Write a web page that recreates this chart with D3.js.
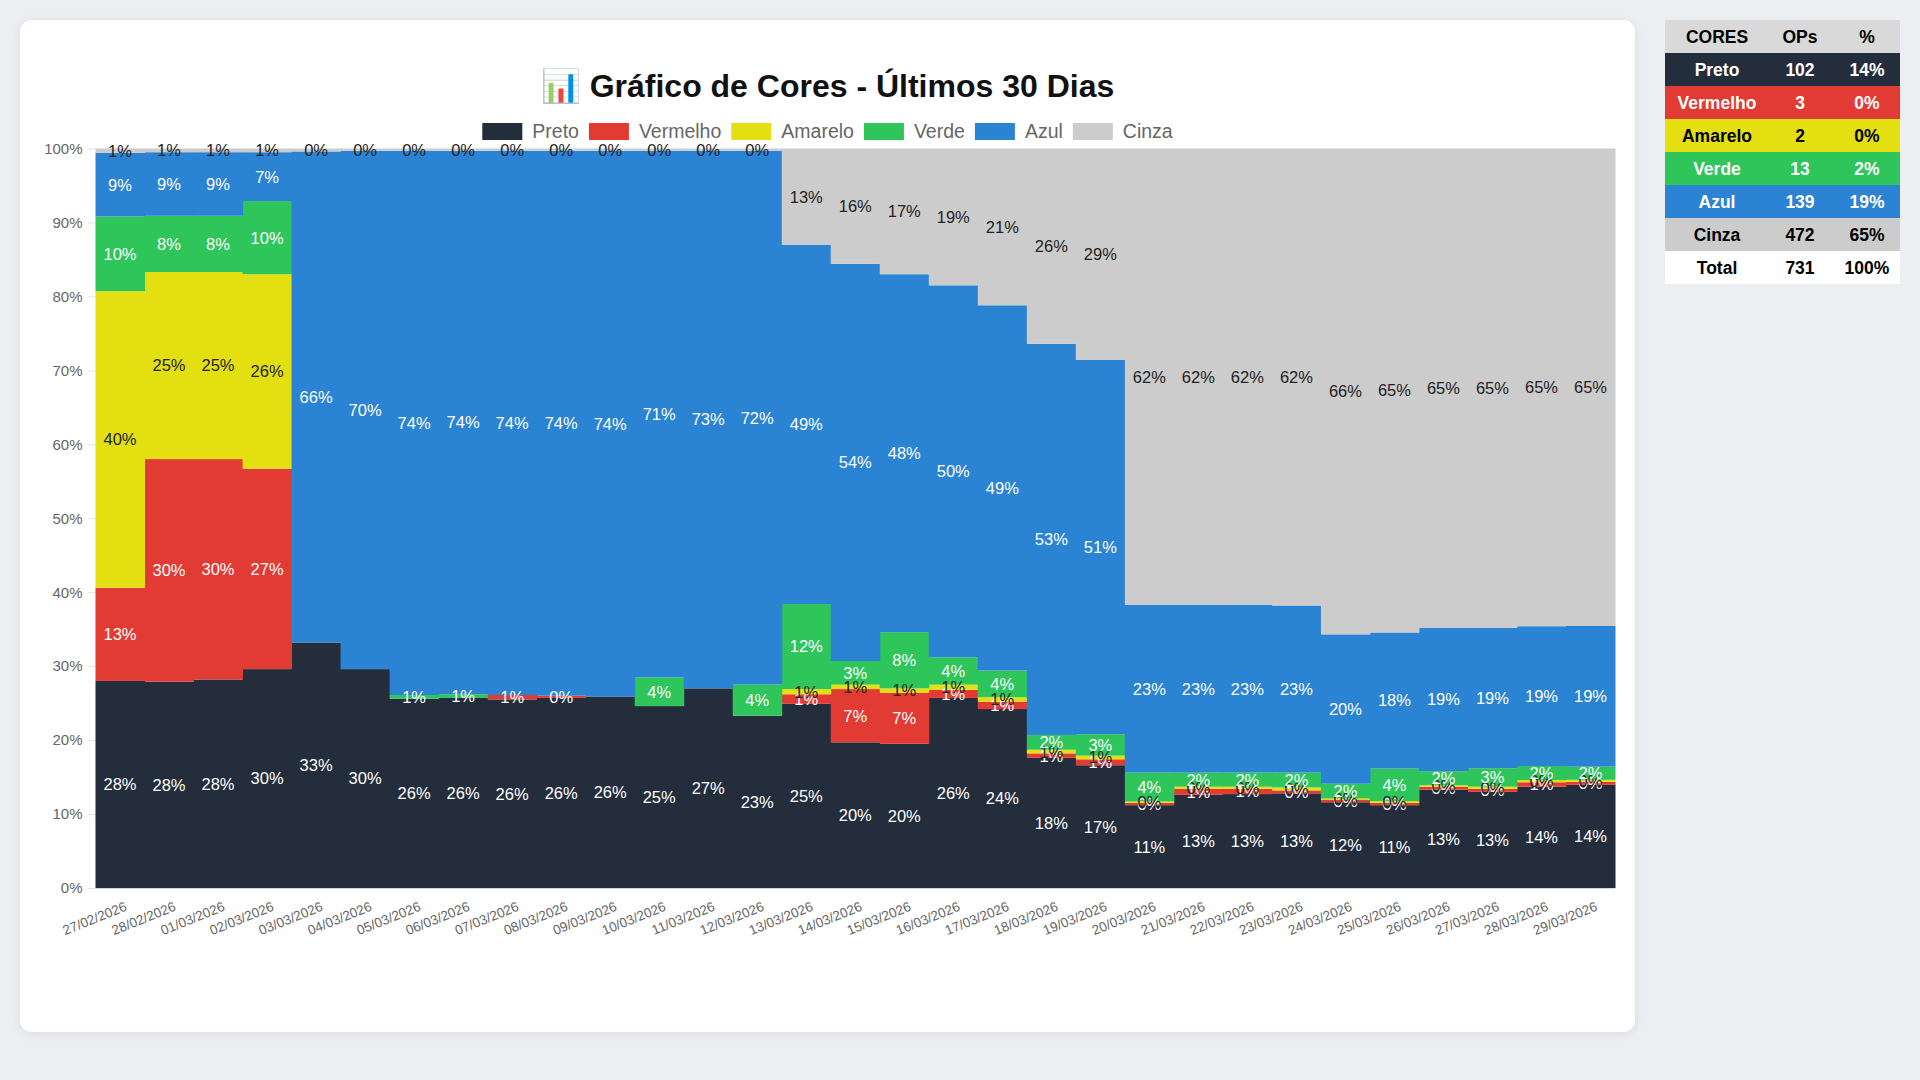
<!DOCTYPE html>
<html lang="pt-BR">
<head>
<meta charset="utf-8">
<title>Gráfico de Cores - Últimos 30 Dias</title>
<script src="https://cdn.jsdelivr.net/npm/d3@7"></script>
<style>
  html, body { margin: 0; padding: 0; background: #eceef1; }
  body { width: 1920px; height: 1080px; overflow: hidden; font-family: "Liberation Sans", Arial, Helvetica, sans-serif; }
</style>
</head>
<body>
<div id="chart"></div>
<script>
// --- data (percent of OPs per day) ---
const dates = [
  "27/02/2026", "28/02/2026", "01/03/2026", "02/03/2026", "03/03/2026", "04/03/2026",
  "05/03/2026", "06/03/2026", "07/03/2026", "08/03/2026", "09/03/2026", "10/03/2026",
  "11/03/2026", "12/03/2026", "13/03/2026", "14/03/2026", "15/03/2026", "16/03/2026",
  "17/03/2026", "18/03/2026", "19/03/2026", "20/03/2026", "21/03/2026", "22/03/2026",
  "23/03/2026", "24/03/2026", "25/03/2026", "26/03/2026", "27/03/2026", "28/03/2026",
  "29/03/2026"
]
const preto =    [28.0, 27.9, 28.2, 29.6, 33.2, 29.6, 25.6, 25.7, 25.5, 25.7, 25.9, 24.6, 27.0, 23.3, 24.9, 19.7, 19.5, 25.7, 24.2, 17.6, 16.6, 11.2, 12.6, 12.7, 12.8, 11.6, 11.2, 13.3, 13.0, 13.7, 13.95]
const vermelho = [12.6, 30.1, 29.8, 27.1, 0, 0, 0, 0, 0.6, 0.3, 0, 0, 0, 0, 1.3, 7.2, 6.9, 1.1, 1.0, 0.6, 0.8, 0.3, 0.8, 0.7, 0.4, 0.3, 0.3, 0.4, 0.4, 0.6, 0.41]
const amarelo =  [40.1, 25.3, 25.3, 26.3, 0, 0, 0, 0, 0, 0, 0, 0, 0, 0, 0.7, 0.6, 0.6, 0.7, 0.6, 0.5, 0.5, 0.2, 0.3, 0.3, 0.4, 0.2, 0.25, 0.2, 0.3, 0.3, 0.27]
const verde =    [10.1, 7.6, 7.6, 9.9, 0, 0, 0.5, 0.5, 0, 0, 0, 3.9, 0, 4.2, 11.5, 3.2, 7.6, 3.7, 3.6, 2.0, 2.9, 3.9, 1.9, 1.9, 2.0, 2.0, 4.4, 1.9, 2.5, 1.9, 1.78]
const azul =     [8.6, 8.6, 8.6, 6.6, 66.4, 70.1, 73.6, 73.5, 73.6, 73.7, 73.8, 71.2, 72.7, 72.2, 48.6, 53.7, 48.4, 50.3, 49.4, 52.9, 50.6, 22.7, 22.7, 22.7, 22.6, 20.2, 18.4, 19.4, 19.0, 18.9, 19.02]
const cinza =    [0.6, 0.5, 0.5, 0.5, 0.4, 0.3, 0.3, 0.3, 0.3, 0.3, 0.3, 0.3, 0.3, 0.3, 13.0, 15.6, 17.0, 18.5, 21.2, 26.4, 28.6, 61.7, 61.7, 61.7, 61.8, 65.7, 65.45, 64.8, 64.8, 64.6, 64.57]

const seriesNames = ["Preto", "Vermelho", "Amarelo", "Verde", "Azul", "Cinza"]
const seriesValues = [preto, vermelho, amarelo, verde, azul, cinza]
const seriesColors = ["#232d3c", "#e23b33", "#e3df10", "#2ec55b", "#2a83d3", "#cccccc"]
const labelColors = ["#ffffff", "#ffffff", "#222222", "#ffffff", "#ffffff", "#222222"]
const yTicks = [0, 10, 20, 30, 40, 50, 60, 70, 80, 90, 100]

// summary table (last day)
const tableHeader = ["CORES", "OPs", "%"]
const tableOps = [102, 3, 2, 13, 139, 472]

const W = 1920, H = 1080
const font = '"Liberation Sans", Arial, Helvetica, sans-serif'

const svg = d3.select("#chart").append("svg")
  .attr("width", W)
  .attr("height", H)
  .style("font-family", font)

const defs = svg.append("defs")
defs.append("filter").attr("id", "shadow")
  .attr("x", "-5%").attr("y", "-5%").attr("width", "110%").attr("height", "110%")
  .append("feDropShadow")
    .attr("dx", 0).attr("dy", 2).attr("stdDeviation", 5)
    .attr("flood-color", "#000").attr("flood-opacity", 0.08)

// card
svg.append("rect")
  .attr("x", 20).attr("y", 20)
  .attr("width", 1615).attr("height", 1012)
  .attr("rx", 12)
  .attr("fill", "#fff")
  .attr("filter", "url(#shadow)")

const cx = 827.5

// title
svg.append("text")
  .attr("x", cx).attr("y", 97)
  .attr("text-anchor", "middle")
  .style("font-size", "32px")
  .style("font-weight", "bold")
  .attr("fill", "#111")
  .text("📊 Gráfico de Cores - Últimos 30 Dias")

// legend
const legend = svg.append("g")
let lx = 0
seriesNames.forEach((name, i) => {
  const item = legend.append("g").attr("transform", `translate(${lx},0)`)
  item.append("rect")
    .attr("x", 0).attr("y", 123)
    .attr("width", 40).attr("height", 17)
    .attr("fill", seriesColors[i])
  const t = item.append("text")
    .attr("x", 50).attr("y", 131.5)
    .attr("dy", "0.35em")
    .attr("fill", "#666")
    .style("font-size", "19.5px")
    .text(name)
  lx += 50 + t.node().getComputedTextLength() + 10
})
legend.attr("transform", `translate(${cx - (lx - 10) / 2},0)`)

// scales
const x = d3.scaleBand()
  .domain(dates)
  .range([95.5, 1615])
  .padding(0)

const y = d3.scaleLinear()
  .domain([0, 100])
  .range([888, 148.5])

const rows = dates.map((d, i) => {
  const r = { date: d }
  seriesNames.forEach((s, k) => { r[s] = seriesValues[k][i] })
  return r
})

const stacked = d3.stack().keys(seriesNames)(rows)

// y axis
const yAxis = svg.append("g")
  .attr("transform", "translate(95.5,0)")
  .call(d3.axisLeft(y).tickValues(yTicks).tickFormat(d => d + "%").tickSize(8).tickPadding(5))
yAxis.select(".domain").remove()
yAxis.selectAll(".tick line").attr("stroke", "#e2e2e2")
yAxis.selectAll(".tick text")
  .attr("fill", "#666")
  .style("font-size", "15px")
  .style("font-family", font)

// bars
const gBars = svg.append("g")
stacked.forEach((layer, k) => {
  gBars.append("g")
    .attr("fill", seriesColors[k])
    .selectAll("rect")
    .data(layer.filter(d => d[1] - d[0] > 0))
    .enter().append("rect")
      .attr("x", d => x(d.data.date))
      .attr("width", x.bandwidth() + 0.5)
      .attr("y", d => y(d[1]))
      .attr("height", d => y(d[0]) - y(d[1]))
})

// bottom axis line
svg.append("line")
  .attr("x1", 95.5).attr("x2", 1615)
  .attr("y1", 888.5).attr("y2", 888.5)
  .attr("stroke", "#d8d8d8")

// x labels
svg.append("g")
  .selectAll("text")
  .data(dates)
  .enter().append("text")
    .attr("transform", d => `translate(${x(d) + x.bandwidth() / 2 + 4},901) rotate(-22)`)
    .attr("text-anchor", "end")
    .attr("dy", "0.72em")
    .attr("fill", "#666")
    .style("font-size", "13.5px")
    .text(d => d)

// value labels, centered in each segment
const gLabels = svg.append("g")
stacked.forEach((layer, k) => {
  gLabels.append("g")
    .selectAll("text")
    .data(layer.filter(d => d[1] - d[0] > 0))
    .enter().append("text")
      .attr("x", d => x(d.data.date) + x.bandwidth() / 2)
      .attr("y", d => (y(d[0]) + y(d[1])) / 2)
      .attr("dy", "0.36em")
      .attr("text-anchor", "middle")
      .attr("fill", labelColors[k])
      .style("font-size", "16.5px")
      .text(d => Math.round(d[1] - d[0] + 1e-9) + "%")
})

// summary table
const total = d3.sum(tableOps)
const tRows = [
  { cells: tableHeader, bg: "#d9d9d9", fg: "#000" }
].concat(seriesNames.map((s, i) => ({
  cells: [s, tableOps[i], Math.round(tableOps[i] / total * 100) + "%"],
  bg: seriesColors[i],
  fg: labelColors[i] === "#ffffff" ? "#fff" : "#000"
}))).concat([{ cells: ["Total", total, "100%"], bg: "#fff", fg: "#000" }])

const colX = [1717, 1800, 1867]
const rowH = 33
const table = svg.append("g")
tRows.forEach((r, i) => {
  const ry = 20 + i * rowH
  table.append("rect")
    .attr("x", 1665).attr("y", ry)
    .attr("width", 235).attr("height", rowH)
    .attr("fill", r.bg)
  r.cells.forEach((c, j) => {
    table.append("text")
      .attr("x", colX[j]).attr("y", ry + rowH / 2)
      .attr("dy", "0.36em")
      .attr("text-anchor", "middle")
      .attr("fill", r.fg)
      .style("font-size", "17.5px")
      .style("font-weight", "bold")
      .text(c)
  })
})
</script>
</body>
</html>
